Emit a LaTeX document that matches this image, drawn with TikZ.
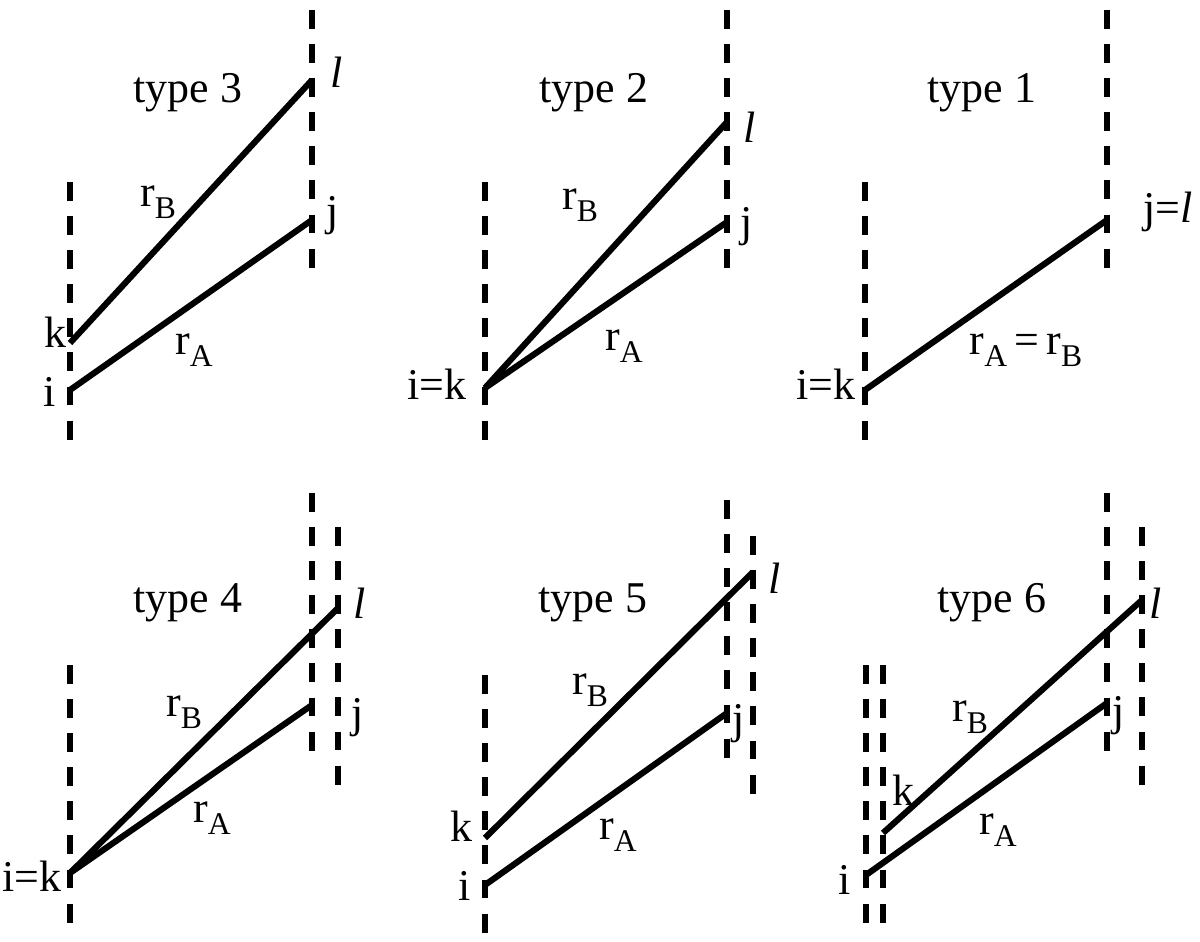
\documentclass[tikz,border=0pt]{standalone}
\usepackage{fontspec}
\setmainfont{Liberation Serif}
\newcommand{\rsub}[1]{r\raisebox{-0.28em}{\fontsize{18}{20}\selectfont #1}}
\begin{document}
\begin{tikzpicture}[x=0.02cm,y=-0.02cm,
  dl/.style={line width=3.3pt,dash pattern=on 10.8pt off 8.6pt},
  sol/.style={line width=3.5pt,line join=miter},
  lbl/.style={inner sep=0pt,font=\fontsize{25}{30}\selectfont}]
\useasboundingbox (0,0) rectangle (1200,942);
% ---------- type 3 ----------
\draw[dl] (70,182) -- (70,442);
\draw[dl] (312,10) -- (312,268);
\coordinate (k3) at (70,343);
\coordinate (i3) at (70,390);
\coordinate (l3) at (312,80);
\coordinate (j3) at (312,220);
\draw[sol] (k3) -- (l3);
\draw[sol] (i3) -- (j3);
\node[lbl] (t3) at (188,93) {type 3};
\node[lbl] (ll3) at (337,72) {\textit{l}};
\node[lbl] (lj3) at (333,216) {j};
\node[lbl] (lb3) at (158,202) {\rsub{B}};
\node[lbl] (lk3) at (55,332) {k};
\node[lbl] (la3) at (194,350) {\rsub{A}};
\node[lbl] (li3) at (50,392) {i};
% ---------- type 2 ----------
\draw[dl] (485,182) -- (485,442);
\draw[dl] (727,10) -- (727,268);
\coordinate (i2) at (485,388);
\coordinate (l2) at (727,122);
\coordinate (j2) at (727,222);
\draw[sol] (i2) -- (l2);
\draw[sol] (i2) -- (j2);
\node[lbl] (t2) at (594,93) {type 2};
\node[lbl] (ll2) at (750,127) {\textit{l}};
\node[lbl] (lj2) at (747,227) {j};
\node[lbl] (lb2) at (580,205) {\rsub{B}};
\node[lbl] (la2) at (624,346) {\rsub{A}};
\node[lbl] (lik2) at (437,384) {i=k};
% ---------- type 1 ----------
\draw[dl] (865,182) -- (865,442);
\draw[dl] (1107,10) -- (1107,268);
\coordinate (i1) at (865,390);
\coordinate (j1) at (1107,220);
\draw[sol] (i1) -- (j1);
\node[lbl] (t1) at (982,93) {type 1};
\node[lbl] (ljl1) at (1168,212) {j=\textit{l}};
\node[lbl] (lab1) at (1026,350) {\rsub{A}\,=\,\rsub{B}};
\node[lbl] (lik1) at (826,384) {i=k};
% ---------- type 4 ----------
\draw[dl] (70,665) -- (70,925);
\draw[dl] (312,493) -- (312,752);
\draw[dl] (338,527) -- (338,786);
\coordinate (i4) at (70,873);
\coordinate (l4) at (338,608);
\coordinate (j4) at (312,705);
\draw[sol] (i4) -- (l4);
\draw[sol] (i4) -- (j4);
\node[lbl] (t4) at (188,603) {type 4};
\node[lbl] (ll4) at (360,603) {\textit{l}};
\node[lbl] (lj4) at (358,718) {j};
\node[lbl] (lb4) at (184,712) {\rsub{B}};
\node[lbl] (la4) at (212,818) {\rsub{A}};
\node[lbl] (lik4) at (32,876) {i=k};
% ---------- type 5 ----------
\draw[dl] (485,675) -- (485,935);
\draw[dl] (727,500) -- (727,759);
\draw[dl] (753,536) -- (753,795);
\coordinate (k5) at (485,838);
\coordinate (i5) at (485,885);
\coordinate (l5) at (753,572);
\coordinate (j5) at (727,713);
\draw[sol] (k5) -- (l5);
\draw[sol] (i5) -- (j5);
\node[lbl] (t5) at (593,603) {type 5};
\node[lbl] (ll5) at (775,578) {\textit{l}};
\node[lbl] (lj5) at (739,724) {j};
\node[lbl] (lb5) at (590,690) {\rsub{B}};
\node[lbl] (la5) at (618,835) {\rsub{A}};
\node[lbl] (lk5) at (461,826) {k};
\node[lbl] (li5) at (465,886) {i};
% ---------- type 6 ----------
\draw[dl] (866,665) -- (866,925);
\draw[dl] (883,665) -- (883,925);
\draw[dl] (1107,493) -- (1107,752);
\draw[dl] (1142,527) -- (1142,786);
\coordinate (i6) at (866,875);
\coordinate (k6) at (883,833);
\coordinate (l6) at (1142,600);
\coordinate (j6) at (1107,703);
\draw[sol] (k6) -- (l6);
\draw[sol] (i6) -- (j6);
\node[lbl] (t6) at (992,603) {type 6};
\node[lbl] (ll6) at (1156,603) {\textit{l}};
\node[lbl] (lj6) at (1119,716) {j};
\node[lbl] (lb6) at (970,717) {\rsub{B}};
\node[lbl] (la6) at (998,830) {\rsub{A}};
\node[lbl] (lk6) at (903,790) {k};
\node[lbl] (li6) at (845,880) {i};
\end{tikzpicture}
\end{document}
